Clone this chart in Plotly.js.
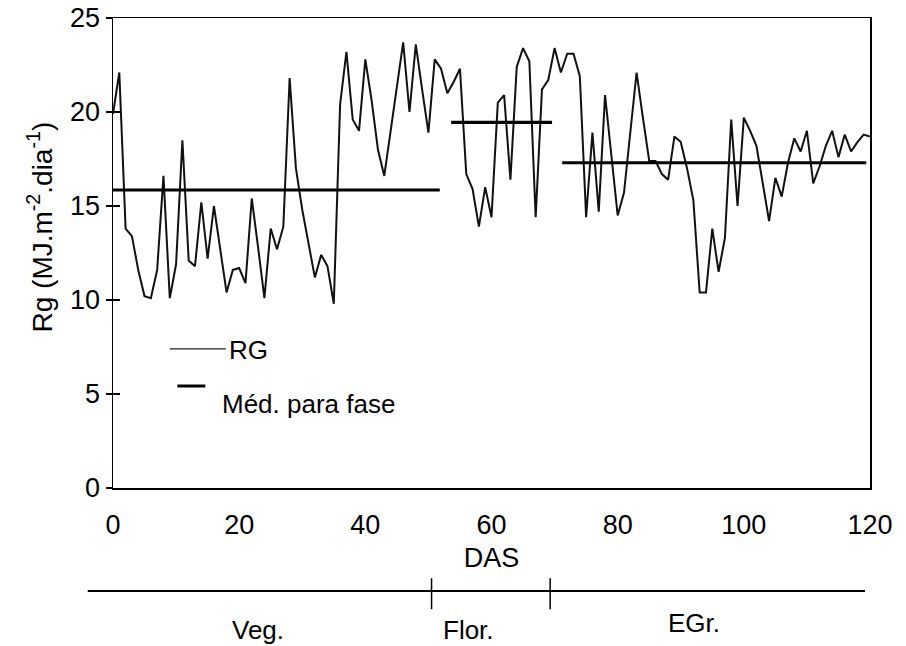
<!DOCTYPE html>
<html>
<head>
<meta charset="utf-8">
<script src="https://cdn.plot.ly/plotly-3.0.1.min.js"></script>
<style>html,body{margin:0;padding:0;background:#fff;}#chart{width:906px;height:646px;}</style>
</head>
<body>
<div id="chart"></div>
<script>
// Daily global radiation (Rg), MJ.m-2.dia-1, from day 0 (DAS)
const firstDay = 0;
const rg = [
  19.9, 22.1, 13.8, 13.4, 11.6, 10.2, 10.1, 11.6, 16.6, 10.1,
  11.9, 18.5, 12.1, 11.8, 15.2, 12.2, 15.0, 12.6, 10.4, 11.6,
  11.7, 10.9, 15.4, 12.8, 10.1, 13.8, 12.7, 13.9, 21.8, 17.0,
  14.8, 13.0, 11.2, 12.4, 11.8, 9.8, 20.4, 23.2, 19.6, 19.0,
  22.8, 20.6, 18.0, 16.6, 19.0, 21.4, 23.7, 20.0, 23.6, 21.2,
  18.9, 22.8, 22.3, 21.0, 21.6, 22.3, 16.7, 15.9, 13.9, 16.0,
  14.4, 20.5, 20.9, 16.4, 22.4, 23.4, 22.7, 14.4, 21.2, 21.7,
  23.4, 22.1, 23.1, 23.1, 21.9, 14.4, 18.9, 14.7, 20.9, 17.7,
  14.5, 15.7, 19.0, 22.1, 19.7, 17.4, 17.4, 16.7, 16.4, 18.7,
  18.4, 17.0, 15.3, 10.4, 10.4, 13.8, 11.5, 13.3, 19.6, 15.0,
  19.7, 19.0, 18.2, 16.3, 14.2, 16.5, 15.5, 17.3, 18.6, 17.9,
  19.0, 16.2, 17.1, 18.2, 19.0, 17.6, 18.8, 17.9, 18.4, 18.8, 18.7
];

// Phase means
const phaseNames = ['Veg.', 'Flor.', 'EGr.'];
const phaseStart = [0, 53.6, 71.2];
const phaseEnd = [51.8, 69.6, 119.4];
const phaseMean = [15.85, 19.45, 17.3];
const phaseLabelX = [23, 56.3, 92.1];

// Phase bar below the chart
const phaseBarStart = -4;
const phaseBarEnd = 119.2;
const phaseBounds = [50.5, 69.3];

const xTicks = [0, 20, 40, 60, 80, 100, 120];
const yTicks = [0, 5, 10, 15, 20, 25];
const xRange = [0, 120];
const yRange = [0, 25];

const FONT = 'Liberation Sans, Arial, Helvetica, sans-serif';
const FS = 27;
const FS_SMALL = 26;

const days = rg.map((_, i) => firstDay + i);

const traces = [{
  x: days, y: rg, type: 'scatter', mode: 'lines',
  line: {color: '#111', width: 2}, name: 'RG', showlegend: false, hoverinfo: 'skip'
}];
for (let i = 0; i < phaseMean.length; i++) {
  traces.push({
    x: [phaseStart[i], phaseEnd[i]], y: [phaseMean[i], phaseMean[i]],
    type: 'scatter', mode: 'lines', line: {color: '#000', width: 3.2},
    showlegend: false, hoverinfo: 'skip'
  });
}
// invisible trace on overlaid axis for inside ticks
traces.push({x: [0], y: [0], yaxis: 'y2', mode: 'markers', marker: {opacity: 0}, showlegend: false, hoverinfo: 'skip'});

const toPaperX = v => (v - xRange[0]) / (xRange[1] - xRange[0]);

const shapes = [
  // legend samples
  {type: 'line', xref: 'paper', yref: 'paper', x0: 0.075, x1: 0.149, y0: 0.296, y1: 0.296, line: {color: '#222', width: 1.2}},
  {type: 'line', xref: 'paper', yref: 'paper', x0: 0.085, x1: 0.122, y0: 0.217, y1: 0.217, line: {color: '#000', width: 3}},
  // phase bar
  {type: 'line', xref: 'paper', yref: 'paper', x0: toPaperX(phaseBarStart), x1: toPaperX(phaseBarEnd), y0: -0.219, y1: -0.219, line: {color: '#000', width: 2}}
];
phaseBounds.forEach(b => {
  shapes.push({type: 'line', xref: 'paper', yref: 'paper', x0: toPaperX(b), x1: toPaperX(b), y0: -0.192, y1: -0.258, line: {color: '#000', width: 1.5}});
});

const annotations = [
  // y-axis title
  {xref: 'paper', yref: 'paper', x: -0.096, y: 0.555, text: 'Rg (MJ.m<sup>-2</sup>.dia<sup>-1</sup>)', textangle: -90, showarrow: false, xanchor: 'center', yanchor: 'middle', font: {family: FONT, size: 28, color: '#000'}},
  {xref: 'paper', yref: 'paper', x: 0.150, y: 0.294, text: 'RG', showarrow: false, xanchor: 'left', yanchor: 'middle', font: {family: FONT, size: FS_SMALL, color: '#000'}},
  {xref: 'paper', yref: 'paper', x: 0.141, y: 0.179, text: 'Méd. para fase', showarrow: false, xanchor: 'left', yanchor: 'middle', font: {family: FONT, size: FS_SMALL, color: '#000'}}
];
phaseNames.forEach((n, i) => {
  annotations.push({xref: 'paper', yref: 'paper', x: toPaperX(phaseLabelX[i]), y: i === 2 ? -0.287 : -0.302, text: n, showarrow: false, xanchor: 'center', yanchor: 'middle', font: {family: FONT, size: FS_SMALL, color: '#000'}});
});

const layout = {
  width: 906, height: 646,
  margin: {l: 113, r: 36, t: 18, b: 158},
  paper_bgcolor: '#fff', plot_bgcolor: '#fff',
  font: {family: FONT, size: FS, color: '#000'},
  showlegend: false,
  xaxis: {
    range: xRange, tickvals: xTicks, ticks: '', showgrid: false, zeroline: false,
    showline: true, mirror: true, linecolor: '#000', linewidth: 1.5,
    ticklabelstandoff: 12,
    tickfont: {family: FONT, size: FS},
    title: {text: 'DAS', font: {family: FONT, size: FS}, standoff: 9}
  },
  yaxis: {
    range: yRange, tickvals: yTicks, ticks: 'outside', ticklen: 6, tickwidth: 1.5, tickcolor: '#000',
    showgrid: false, zeroline: false,
    showline: true, mirror: true, linecolor: '#000', linewidth: 1.5,
    tickfont: {family: FONT, size: FS}
  },
  yaxis2: {
    overlaying: 'y', side: 'left', anchor: 'x', range: yRange, tickvals: yTicks,
    ticks: 'inside', ticklen: 7, tickwidth: 1.5, tickcolor: '#000',
    showticklabels: false, showgrid: false, zeroline: false, showline: false
  },
  shapes: shapes,
  annotations: annotations
};

Plotly.newPlot('chart', traces, layout, {displayModeBar: false, staticPlot: true});
</script>
</body>
</html>
